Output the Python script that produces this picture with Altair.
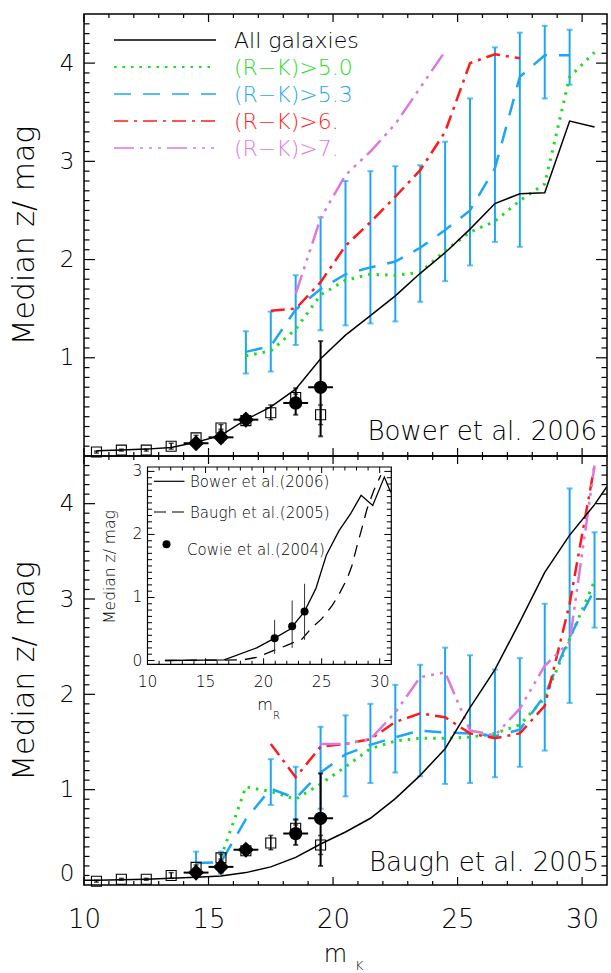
import altair as alt
import pandas as pd

FONT = "DejaVu Sans"
FW = 200
W = 523
H_TOP = 442
H_BOT = 429

# ---------------- data ----------------
# observations (same in both panels)
sq_x = [10.5, 11.5, 12.5, 13.5, 14.5, 15.5, 16.5, 17.5, 18.5, 19.5]
sq_y = [0.04, 0.06, 0.06, 0.10, 0.185, 0.285, 0.36, 0.44, 0.595, 0.42]
sq_lo = [0.03, 0.05, 0.05, 0.07, 0.165, 0.25, 0.33, 0.37, 0.56, 0.32]
sq_hi = [0.05, 0.07, 0.07, 0.13, 0.21, 0.32, 0.39, 0.52, 0.63, 0.52]
dia_x = [14.5, 15.5, 16.5]
dia_y = [0.13, 0.19, 0.37]
dia_lo = [0.10, 0.14, 0.33]
dia_hi = [0.16, 0.27, 0.42]
dia_xerr = [0.5, 0.5, 0.5]
cir_x = [18.5, 19.5]
cir_y = [0.54, 0.70]
cir_lo = [0.42, 0.20]
cir_hi = [0.69, 1.17]
cir_xerr = [0.5, 0.5]

# Bower et al. 2006 (top panel)
t_all_x = [10.5, 11.5, 12.5, 13.5, 14.5, 15.5, 16.5, 17.5, 18.5, 19.5, 20.5,
           21.5, 22.5, 23.5, 24.5, 25.5, 26.5, 27.5, 28.5, 29.5, 30.5]
t_all_y = [0.053, 0.06, 0.07, 0.087, 0.14, 0.21, 0.37, 0.50, 0.68, 0.99, 1.23,
           1.43, 1.63, 1.86, 2.07, 2.31, 2.57, 2.67, 2.68, 3.41, 3.35]
t_g_x = [16.5, 17.5, 18.5, 19.5, 20.5, 21.5, 22.5, 23.5, 24.5, 25.5, 26.5, 27.5, 28.5, 29.5, 30.5]
t_g_y = [1.02, 1.07, 1.29, 1.64, 1.79, 1.85, 1.84, 1.87, 2.09, 2.28, 2.39, 2.60, 2.77, 3.86, 4.11]
t_b_x = [16.5, 17.5, 18.5, 19.5, 20.5, 21.5, 22.5, 23.5, 24.5, 25.5, 26.5, 27.5, 28.5, 29.5]
t_b_y = [1.06, 1.12, 1.49, 1.70, 1.85, 1.92, 1.98, 2.12, 2.30, 2.50, 2.93, 3.86, 4.08, 4.08]
t_r_x = [17.5, 18.5, 19.5, 20.5, 21.5, 22.5, 23.5, 24.5, 25.5, 26.5, 27.5]
t_r_y = [1.48, 1.50, 1.77, 2.14, 2.38, 2.64, 2.91, 3.30, 4.00, 4.09, 4.05]
t_v_x = [18.5, 19.5, 20.5, 21.5, 22.5, 23.5, 24.5]
t_v_y = [1.65, 2.42, 2.86, 3.10, 3.38, 3.75, 4.12]
t_e_x = [16.5, 17.5, 18.5, 19.5, 20.5, 21.5, 22.5, 23.5, 24.5, 25.5, 26.5, 27.5, 28.5, 29.5]
t_e_lo = [0.84, 0.86, 1.13, 1.28, 1.33, 1.35, 1.37, 1.57, 1.78, 1.94, 2.18, 2.13, 3.64, 3.78]
t_e_hi = [1.27, 1.47, 1.84, 2.43, 2.80, 2.90, 2.95, 2.96, 3.20, 3.64, 4.16, 4.31, 4.38, 4.34]

# Baugh et al. 2005 (bottom panel)
b_all_x = [10.0, 10.5, 11.5, 12.5, 13.5, 14.5, 15.5, 16.5, 17.5, 18.5, 19.5, 20.5,
           21.5, 22.5, 23.5, 24.5, 25.5, 26.5, 27.5, 28.5, 29.5, 30.5, 31.0]
b_all_y = [0.05, 0.05, 0.055, 0.06, 0.07, 0.08, 0.095, 0.13, 0.19, 0.29, 0.43, 0.556,
           0.70, 0.906, 1.15, 1.43, 1.86, 2.26, 2.76, 3.28, 3.67, 3.99, 4.18]
b_g_x = [15.5, 16.5, 17.5, 18.5, 19.5, 20.5, 21.5, 22.5, 23.5, 24.5, 25.5, 26.5, 27.5, 28.5, 29.5, 30.5]
b_g_y = [0.29, 1.03, 0.98, 0.90, 1.06, 1.24, 1.43, 1.51, 1.54, 1.54, 1.55, 1.59, 1.68, 1.96, 2.58, 3.19]
b_b_x = [14.5, 15.5, 16.5, 17.5, 18.5, 19.5, 20.5, 21.5, 22.5, 23.5, 24.5, 25.5, 26.5, 27.5, 28.5, 29.5, 30.5]
b_b_y = [0.23, 0.24, 0.69, 1.01, 0.91, 1.18, 1.37, 1.47, 1.55, 1.62, 1.60, 1.59, 1.56, 1.63, 1.99, 2.60, 3.10]
b_r_x = [17.5, 18.5, 19.5, 20.5, 21.5, 22.5, 23.5, 24.5, 25.5, 26.5, 27.5, 28.5, 29.5, 30.5]
b_r_y = [1.48, 1.13, 1.45, 1.48, 1.53, 1.71, 1.80, 1.76, 1.59, 1.54, 1.59, 1.88, 2.95, 4.40]
b_v_x = [19.5, 20.5, 21.5, 22.5, 23.5, 24.5, 25.5, 26.5, 27.5, 28.5, 29.5, 30.5]
b_v_y = [1.48, 1.48, 1.53, 1.81, 2.18, 2.23, 1.62, 1.57, 1.85, 2.30, 2.55, 4.40]
b_e_x = [14.5, 15.5, 17.5, 18.5, 19.5, 20.5, 21.5, 22.5, 23.5, 24.5, 25.5, 26.5, 27.5, 28.5, 29.5, 30.5]
b_e_lo = [0.12, 0.12, 0.84, 0.68, 0.80, 0.93, 1.07, 1.18, 1.14, 1.06, 1.07, 1.13, 1.24, 1.41, 1.91, 2.70]
b_e_hi = [0.35, 0.35, 1.32, 1.24, 1.66, 1.78, 1.90, 2.10, 2.31, 2.49, 2.41, 2.26, 2.38, 2.95, 4.16, 3.70]

# inset (m_R)
i_bow_x = [11.5, 16.6, 19.4, 21.0, 22.3, 23.5, 24.5, 25.4, 26.5, 27.5, 28.4, 29.4, 30.4, 30.95]
i_bow_y = [0.0, 0.01, 0.20, 0.36, 0.50, 0.77, 1.14, 1.67, 2.06, 2.33, 2.62, 2.46, 2.91, 2.67]
i_bau_x = [11.5, 18.2, 19.4, 22.0, 23.3, 24.2, 25.0, 25.9, 26.5, 27.2, 27.6, 28.05, 28.5, 28.9, 29.5, 30.1]
i_bau_y = [0.0, 0.01, 0.05, 0.24, 0.34, 0.53, 0.66, 0.87, 1.05, 1.30, 1.50, 1.82, 2.12, 2.40, 2.70, 2.94]
i_cow_x = [20.95, 22.46, 23.53]
i_cow_y = [0.354, 0.545, 0.778]
i_cow_lo = [0.106, 0.20, 0.328]
i_cow_hi = [0.645, 0.952, 1.217]

x_tick_labels = [10, 15, 20, 25, 30]
legend_names = ["All galaxies", "(R\u2212K)>5.0", "(R\u2212K)>5.3", "(R\u2212K)>6.", "(R\u2212K)>7."]
inset_names = ["Bower et al.(2006)", "Baugh et al.(2005)", "Cowie et al.(2004)"]

# ---------------- styles ----------------
BLACK = "black"
GREEN = "#1fdc1f"
BLUE = "#1ea6f2"
RED = "#ff1a1a"
VIOLET = "#dc78dc"
D_GREEN = [2.5, 6]
D_BLUE = [17, 12]
D_RED = [14, 6, 3, 6]
D_VIOLET = [20, 6, 3, 6, 3, 6, 3, 6]

XS = alt.Scale(domain=[10, 31], nice=False, zero=False)


def frame(**cols):
    return pd.DataFrame(cols)


def make_encoders(ys, xaxis, yaxis):
    def X(f):
        return alt.X(f"{f}:Q", scale=XS, axis=xaxis)

    def Y(f):
        return alt.Y(f"{f}:Q", scale=ys, axis=yaxis)
    return X, Y


def tick_layers(X, Y, H, ymaj, ymin):
    xmaj = [10, 15, 20, 25, 30]
    xmin = [v for v in range(11, 31) if v % 5]
    out = []
    for vals, ln in [(xmaj, 8), (xmin, 4)]:
        d = frame(x=vals)
        out.append(alt.Chart(d).mark_rule(color=BLACK, strokeWidth=1.2).encode(
            x=X("x"), y=alt.value(0), y2=alt.value(ln)))
        out.append(alt.Chart(d).mark_rule(color=BLACK, strokeWidth=1.2).encode(
            x=X("x"), y=alt.value(H), y2=alt.value(H - ln)))
    for vals, ln in [(ymaj, 11), (ymin, 5.5)]:
        d = frame(y=vals)
        out.append(alt.Chart(d).mark_rule(color=BLACK, strokeWidth=1.2).encode(
            y=Y("y"), x=alt.value(0), x2=alt.value(ln)))
        out.append(alt.Chart(d).mark_rule(color=BLACK, strokeWidth=1.2).encode(
            y=Y("y"), x=alt.value(W), x2=alt.value(W - ln)))
    return out


def vbars(X, Y, xs, lo, hi, color, width, cap):
    d = frame(x=xs, lo=lo, hi=hi)
    b = alt.Chart(d)
    return [
        b.mark_rule(color=color, strokeWidth=width).encode(x=X("x"), y=Y("lo"), y2=alt.Y2("hi")),
        b.mark_tick(color=color, thickness=width, size=cap, orient="horizontal").encode(x=X("x"), y=Y("lo")),
        b.mark_tick(color=color, thickness=width, size=cap, orient="horizontal").encode(x=X("x"), y=Y("hi")),
    ]


def hbars(X, Y, xs, ys, err, width):
    d = frame(x=xs, y=ys, err=err)
    return alt.Chart(d).transform_calculate(
        xlo="datum.x - datum.err", xhi="datum.x + datum.err"
    ).mark_rule(color=BLACK, strokeWidth=width).encode(x=X("xlo"), x2=alt.X2("xhi"), y=Y("y"))


def line(X, Y, xs, ys, color, width, dash=None):
    kw = dict(color=color, strokeWidth=width, clip=True)
    if dash:
        kw["strokeDash"] = dash
    return alt.Chart(frame(x=xs, y=ys)).mark_line(**kw).encode(x=X("x"), y=Y("y"))


def text(t, x, y, size, color=BLACK, align="left", baseline="alphabetic", angle=0):
    return alt.Chart(frame(t=[t])).mark_text(
        font=FONT, fontSize=size, fontWeight=FW, color=color, align=align,
        baseline=baseline, angle=angle).encode(text="t:N", x=alt.value(x), y=alt.value(y))


def obs_layers(X, Y):
    out = []
    out += vbars(X, Y, sq_x, sq_lo, sq_hi, BLACK, 1.5, 5)
    out.append(alt.Chart(frame(x=sq_x, y=sq_y)).mark_point(
        shape="square", filled=False, color=BLACK, size=100, strokeWidth=1.1, opacity=1).encode(x=X("x"), y=Y("y")))
    out += vbars(X, Y, dia_x, dia_lo, dia_hi, BLACK, 2, 5)
    out.append(hbars(X, Y, dia_x, dia_y, dia_xerr, 2))
    out.append(alt.Chart(frame(x=dia_x, y=dia_y)).mark_point(
        shape="diamond", filled=True, color=BLACK, size=260, opacity=1).encode(x=X("x"), y=Y("y")))
    out += vbars(X, Y, cir_x, cir_lo, cir_hi, BLACK, 2, 5)
    out.append(hbars(X, Y, cir_x, cir_y, cir_xerr, 2))
    out.append(alt.Chart(frame(x=cir_x, y=cir_y)).mark_circle(
        color=BLACK, size=175, opacity=1).encode(x=X("x"), y=Y("y")))
    return out


def y_axis(H, values, flush):
    return alt.Axis(values=values, ticks=False, domain=False, grid=False, format="d",
                    labelFont=FONT, labelFontSize=23, labelFontWeight=FW, labelColor=BLACK,
                    labelPadding=10, labelFlush=flush,
                    title="Median z/ mag", titleFont=FONT, titleFontSize=30, titleFontWeight=FW,
                    titleColor=BLACK, titleAngle=270, titleAlign="center", titleBaseline="middle",
                    titleX=-60, titleY=H / 2)


ymin_top = [round(i * 0.1, 1) for i in range(1, 45) if i % 10]
ymin_bot = ymin_top

# ---------------- top panel ----------------
YS_T = alt.Scale(domain=[0, 4.5], nice=False, zero=False)
Xt, Yt = make_encoders(YS_T, None, y_axis(H_TOP, [1, 2, 3, 4], False))

top_layers = []
top_layers += tick_layers(Xt, Yt, H_TOP, [1, 2, 3, 4], ymin_top)
top_layers += vbars(Xt, Yt, t_e_x, t_e_lo, t_e_hi, BLUE, 2, 6)
top_layers.append(line(Xt, Yt, t_g_x, t_g_y, GREEN, 3, D_GREEN))
top_layers.append(line(Xt, Yt, t_b_x, t_b_y, BLUE, 2.5, D_BLUE))
top_layers.append(line(Xt, Yt, t_r_x, t_r_y, RED, 2.5, D_RED))
top_layers.append(line(Xt, Yt, t_v_x, t_v_y, VIOLET, 2.5, D_VIOLET))
top_layers.append(line(Xt, Yt, t_all_x, t_all_y, BLACK, 1.5))
top_layers += obs_layers(Xt, Yt)

leg_styles = [(BLACK, None, 1.3), (GREEN, D_GREEN, 2), (BLUE, D_BLUE, 1.6), (RED, D_RED, 1.6), (VIOLET, D_VIOLET, 1.6)]
for i, (name, (col, dash, wd)) in enumerate(zip(legend_names, leg_styles)):
    ry = 26 + 27 * i
    kw = dict(color=col, strokeWidth=wd)
    if dash:
        kw["strokeDash"] = dash
    top_layers.append(alt.Chart(frame(t=[name])).mark_rule(**kw).encode(
        x=alt.value(30), x2=alt.value(132), y=alt.value(ry)))
    top_layers.append(text(name, 150, ry + 8, 22, color=col))
top_layers.append(text("Bower et al. 2006", 513, 426, 26, align="right"))

top = alt.layer(*top_layers).properties(width=W, height=H_TOP)

# ---------------- bottom panel ----------------
YS_B = alt.Scale(domain=[0, 4.5], nice=False, zero=False)
x_axis_b = alt.Axis(values=x_tick_labels, ticks=False, domain=False, grid=False, format="d",
                    labelFont=FONT, labelFontSize=26, labelFontWeight=FW, labelColor=BLACK,
                    labelPadding=21, labelFlush=False, title=None)
Xb, Yb = make_encoders(YS_B, x_axis_b, y_axis(H_BOT, [0, 1, 2, 3, 4], True))

bot_layers = []
bot_layers += tick_layers(Xb, Yb, H_BOT, [1, 2, 3, 4], ymin_bot)
bot_layers += vbars(Xb, Yb, b_e_x, b_e_lo, b_e_hi, BLUE, 2, 6)
bot_layers.append(line(Xb, Yb, b_g_x, b_g_y, GREEN, 3, D_GREEN))
bot_layers.append(line(Xb, Yb, b_b_x, b_b_y, BLUE, 2.5, D_BLUE))
bot_layers.append(line(Xb, Yb, b_r_x, b_r_y, RED, 2.5, D_RED))
bot_layers.append(line(Xb, Yb, b_v_x, b_v_y, VIOLET, 2.5, D_VIOLET))
bot_layers.append(line(Xb, Yb, b_all_x, b_all_y, BLACK, 1.5))
bot_layers += obs_layers(Xb, Yb)
bot_layers.append(text("Baugh et al. 2005", 515, 415, 26, align="right"))
bot_layers.append(text("m", 251.5, 506, 24, align="center"))
bot_layers.append(text("K", 271, 514, 13))
main_bottom = alt.layer(*bot_layers)

# ---------------- inset ----------------
IX0, IX1, IY0, IY1 = 63.5, 307.3, 208.3, 11.0
IXS = alt.Scale(domain=[10, 31], range=[IX0, IX1], nice=False, zero=False)
IYS = alt.Scale(domain=[-0.06, 3.07], range=[IY0, IY1], nice=False, zero=False)


def IX(f):
    return alt.X(f"{f}:Q", scale=IXS, axis=None)


def IY(f):
    return alt.Y(f"{f}:Q", scale=IYS, axis=None)


ins = []
ins.append(alt.Chart(frame(x=[10], x2=[31], y=[-0.06], y2=[3.07])).mark_rect(
    fill="white", stroke=BLACK, strokeWidth=1.2).encode(
    x=IX("x"), x2=alt.X2("x2"), y=IY("y"), y2=alt.Y2("y2")))
ixmaj = [10, 15, 20, 25, 30]
ixmin = [v for v in range(11, 31) if v % 5]
for vals, ln in [(ixmaj, 6), (ixmin, 3.5)]:
    d = frame(x=vals)
    ins.append(alt.Chart(d).mark_rule(color=BLACK, strokeWidth=1).encode(
        x=IX("x"), y=alt.value(IY0), y2=alt.value(IY0 - ln)))
    ins.append(alt.Chart(d).mark_rule(color=BLACK, strokeWidth=1).encode(
        x=IX("x"), y=alt.value(IY1), y2=alt.value(IY1 + ln)))
iymaj = [0, 1, 2, 3]
iymin = [round(i * 0.1, 1) for i in range(1, 31) if i % 10]
for vals, ln in [(iymaj, 7), (iymin, 4.5)]:
    d = frame(y=vals)
    ins.append(alt.Chart(d).mark_rule(color=BLACK, strokeWidth=1).encode(
        y=IY("y"), x=alt.value(IX0), x2=alt.value(IX0 + ln)))
    ins.append(alt.Chart(d).mark_rule(color=BLACK, strokeWidth=1).encode(
        y=IY("y"), x=alt.value(IX1), x2=alt.value(IX1 - ln)))
ins.append(alt.Chart(frame(x=ixmaj, t=[str(v) for v in ixmaj])).mark_text(
    font=FONT, fontSize=15.5, fontWeight=FW, color=BLACK, baseline="middle").encode(
    x=IX("x"), y=alt.value(226), text="t:N"))
ins.append(alt.Chart(frame(y=iymaj, t=[str(v) for v in iymaj])).mark_text(
    font=FONT, fontSize=15.5, fontWeight=FW, color=BLACK, baseline="middle", align="right").encode(
    y=IY("y"), x=alt.value(58.4), text="t:N"))
ins.append(alt.Chart(frame(x=i_bow_x, y=i_bow_y)).mark_line(color=BLACK, strokeWidth=1.3).encode(
    x=IX("x"), y=IY("y")))
ins.append(alt.Chart(frame(x=i_bau_x, y=i_bau_y)).mark_line(color=BLACK, strokeWidth=1.3, strokeDash=[12, 8]).encode(
    x=IX("x"), y=IY("y")))
ins.append(alt.Chart(frame(x=i_cow_x, lo=i_cow_lo, hi=i_cow_hi)).mark_rule(color="#333333", strokeWidth=1).encode(
    x=IX("x"), y=IY("lo"), y2=alt.Y2("hi")))
ins.append(alt.Chart(frame(x=i_cow_x, y=i_cow_y)).mark_circle(color=BLACK, size=64, opacity=1).encode(
    x=IX("x"), y=IY("y")))
# inset legend
ins.append(alt.Chart(frame(t=[inset_names[0]])).mark_rule(color=BLACK, strokeWidth=1.2).encode(
    x=alt.value(70), x2=alt.value(100.5), y=alt.value(25.3)))
ins.append(alt.Chart(frame(t=[inset_names[1]])).mark_rule(color=BLACK, strokeWidth=1.2, strokeDash=[12, 6]).encode(
    x=alt.value(70), x2=alt.value(100.5), y=alt.value(56)))
ins.append(alt.Chart(frame(t=[inset_names[2]])).mark_circle(color=BLACK, size=64, opacity=1).encode(
    x=alt.value(82.5), y=alt.value(88.3)))
ins.append(text(inset_names[0], 106, 30.5, 15))
ins.append(text(inset_names[1], 106, 61.5, 15))
ins.append(text(inset_names[2], 103, 98.5, 15))
ins.append(text("Median z/ mag", 26, 111, 15.5, align="center", baseline="middle", angle=270))
ins.append(text("m", 181, 254, 16, align="center"))
ins.append(text("R", 189, 263, 10))
inset = alt.layer(*ins)

bottom = alt.layer(main_bottom, inset).resolve_scale(x="independent", y="independent").properties(
    width=W, height=H_BOT)

chart = alt.vconcat(top, bottom, spacing=0, bounds="flush").configure_view(
    stroke=BLACK, strokeWidth=1.5).properties(
    padding={"left": 8, "top": 12, "right": 2, "bottom": 0}, background="white")

chart.save("out.html", embed_options={"renderer": "svg", "actions": False})
